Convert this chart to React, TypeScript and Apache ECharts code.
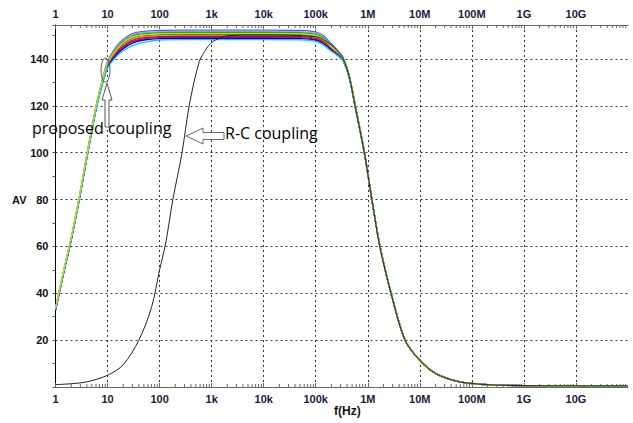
import React, { useEffect, useRef } from "react";
import * as echarts from "echarts";

// Frequencies (Hz) for the proposed-coupling curves
const propFreq = [1, 1.5, 2, 3, 4, 6, 8, 10, 15, 20, 30, 50, 100, 300, 1e3, 1e4, 5e4, 1e5, 1.4e5, 2e5, 2.6e5, 3.3e5, 4.4e5, 5.7e5, 8.6e5, 1.2e6, 1.7e6, 2.8e6, 5.2e6, 1e7, 2e7, 5e7, 1e8, 3e8, 1e9, 1e10, 1e11];

const prop0 = [33.5, 51.5, 63.5, 83.5, 99, 119.8, 131.5, 139, 145.5, 148.3, 150.8, 151.8, 152.2, 152.3, 152.3, 152.3, 152.2, 151.5, 150, 146.5, 143.8, 141, 133, 120.8, 100.5, 80, 60.5, 40, 20, 11.4, 5.8, 2.5, 1.5, 0.8, 0.6, 0.5, 0.5];
const prop1 = [33.3, 51.3, 63.3, 83.3, 98.8, 119.6, 131.2, 138.6, 145, 147.8, 150.3, 151.3, 151.7, 151.8, 151.8, 151.8, 151.7, 151, 149.5, 146.1, 143.5, 140.8, 132.9, 120.7, 100.4, 80, 60.5, 40, 20, 11.4, 5.8, 2.5, 1.5, 0.8, 0.6, 0.5, 0.5];
const prop2 = [33.2, 51.2, 63.2, 83.1, 98.6, 119.4, 131, 138.3, 144.5, 147.3, 149.8, 150.8, 151.2, 151.3, 151.3, 151.3, 151.2, 150.5, 149, 145.7, 143.2, 140.6, 132.8, 120.6, 100.3, 80, 60.5, 40, 20, 11.4, 5.8, 2.5, 1.5, 0.8, 0.6, 0.5, 0.5];
const prop3 = [33.8, 51.8, 63.8, 83.7, 99.2, 119.9, 131.2, 138.3, 144.1, 146.9, 149.3, 150.3, 150.7, 150.8, 150.8, 150.8, 150.7, 150, 148.5, 145.3, 143, 140.4, 132.7, 120.5, 100.3, 80, 60.5, 40, 20, 11.4, 5.8, 2.5, 1.5, 0.8, 0.6, 0.5, 0.5];
const prop4 = [33.1, 51, 63, 82.9, 98.4, 119.2, 130.7, 137.8, 143.7, 146.5, 148.9, 150, 150.4, 150.5, 150.5, 150.5, 150.4, 149.7, 148.2, 145, 142.8, 140.3, 132.6, 120.4, 100.2, 80, 60.5, 40, 20, 11.4, 5.8, 2.5, 1.5, 0.8, 0.6, 0.5, 0.5];
const prop5 = [33, 50.9, 62.9, 82.8, 98.3, 119, 130.4, 137.5, 143.3, 146.1, 148.5, 149.6, 150, 150.1, 150.1, 150.1, 150, 149.3, 147.8, 144.7, 142.5, 140.2, 132.5, 120.3, 100.1, 80, 60.5, 40, 20, 11.4, 5.8, 2.5, 1.5, 0.8, 0.6, 0.5, 0.5];
const prop6 = [32.9, 50.8, 62.8, 82.6, 98.1, 118.8, 130.1, 137.1, 142.8, 145.5, 147.9, 149.1, 149.5, 149.6, 149.6, 149.6, 149.5, 148.8, 147.3, 144.3, 142.2, 140, 132.4, 120.2, 100, 80, 60.5, 40, 20, 11.4, 5.8, 2.5, 1.5, 0.8, 0.6, 0.5, 0.5];
const prop7 = [32.8, 50.7, 62.7, 82.5, 98, 118.6, 129.9, 136.8, 142.3, 144.9, 147.4, 148.6, 149.1, 149.2, 149.2, 149.2, 149.1, 148.4, 146.9, 144, 142, 139.8, 132.3, 120.1, 100, 80, 60.5, 40, 20, 11.4, 5.8, 2.5, 1.5, 0.8, 0.6, 0.5, 0.5];
const prop8 = [32.7, 50.6, 62.6, 82.4, 97.8, 118.4, 129.6, 136.5, 141.8, 144.4, 146.8, 148.1, 148.7, 148.8, 148.8, 148.8, 148.7, 148, 146.5, 143.7, 141.8, 139.6, 132.2, 120, 99.9, 80, 60.5, 40, 20, 11.4, 5.8, 2.5, 1.5, 0.8, 0.6, 0.5, 0.5];
const prop9 = [33, 50.8, 62.7, 82.3, 97.6, 118.1, 129.3, 136.1, 141.2, 143.5, 145.7, 147.1, 148.1, 148.3, 148.3, 148.3, 148.2, 147.5, 146, 143.3, 141.5, 139.4, 132, 119.8, 99.8, 80, 60.5, 40, 20, 11.4, 5.8, 2.5, 1.5, 0.8, 0.6, 0.5, 0.5];

const propSeries = [prop4, prop5, prop6, prop7, prop8, prop0, prop1, prop2, prop9, prop3];
const propColors = ["#006400", "#e09a30", "#e00000", "#c000c0", "#0000c0", "#5050ff", "#a0a0ff", "#00c000", "#00d0ff", "#d8d800"];

// R-C coupling curve
const rcFreq = [1, 2, 4, 10, 20, 40, 70, 100, 130, 180, 270, 370, 580, 800, 1000, 1400, 2200, 5000, 1e4, 1e5, 2e5, 2.6e5, 3.3e5, 4.4e5, 5.7e5, 8.6e5, 1.2e6, 1.7e6, 2.8e6, 5.2e6, 1e7, 2e7, 5e7, 1e8, 3e8, 1e9, 1e10, 1e11];
const rcGain = [1, 1.4, 2.2, 5, 9.5, 20, 34, 50, 61, 80, 100, 120, 139, 144.5, 147, 148.8, 150, 150.2, 150.2, 149.5, 146, 143.5, 140.5, 132.5, 120, 100, 80, 60, 40, 20, 11.4, 5.8, 2.5, 1.5, 0.8, 0.6, 0.5, 0.5];

// Axis ticks
const decadeTicks = [1, 10, 100, 1e3, 1e4, 1e5, 1e6, 1e7, 1e8, 1e9, 1e10, 1e11];
const decadeLabels = ["1", "10", "100", "1k", "10k", "100k", "1M", "10M", "100M", "1G", "10G", ""];
const minorMultipliers = [2, 3, 4, 5, 6, 7, 8, 9];

const xMin = 1;
const xMax = 1e11;
const yMax = 154.5;

const minorTickValues: number[] = [];
decadeTicks.slice(0, -1).forEach((d) => minorMultipliers.forEach((m) => minorTickValues.push(d * m)));

const labelColor = "#1a1a40";

const makeXAxis = (pos: "top" | "bottom") => ({
  type: "log",
  logBase: 10,
  min: xMin,
  max: xMax,
  position: pos,
  axisLine: { show: true, lineStyle: { color: "#666", width: 1 } },
  axisTick: { show: true, inside: true, length: 4, customValues: decadeTicks.slice(0, -1), lineStyle: { color: "#666" } },
  axisLabel: {
    show: true,
    customValues: decadeTicks.slice(0, -1),
    formatter: (v: number) => decadeLabels[decadeTicks.findIndex((d) => Math.abs(Math.log10(d) - Math.log10(v)) < 1e-6)] ?? "",
    color: labelColor,
    fontWeight: "bold",
    fontSize: 11,
    fontFamily: "Liberation Sans",
    margin: 6,
    interval: 0,
    hideOverlap: false,
  },
  splitLine: {
    show: pos === "bottom",
    lineStyle: { color: "#333", type: [2, 3], width: 1 },
  },
});

export default function App() {
  const ref = useRef<HTMLDivElement>(null);
  useEffect(() => {
    if (!ref.current) return;
    const chart = echarts.init(ref.current, undefined, { renderer: "svg" });
    const series: any[] = propSeries.map((vals, i) => ({
      type: "line",
      xAxisIndex: 0,
      data: propFreq.map((f, j) => [f, vals[j]]),
      showSymbol: false,
      smooth: 0.25,
      lineStyle: { color: propColors[i], width: 1.3 },
      z: 3,
    }));
    series.push({
      type: "line",
      xAxisIndex: 0,
      data: rcFreq.map((f, j) => [f, rcGain[j]]),
      showSymbol: false,
      smooth: 0.3,
      lineStyle: { color: "#222", width: 1 },
      z: 4,
    });
    // minor log ticks on top and bottom axes
    series.push({
      type: "custom",
      xAxisIndex: 0,
      clip: false,
      silent: true,
      data: minorTickValues.map((f) => [f, 0]),
      renderItem: (params: any, api: any) => {
        const f = api.value(0);
        const b = api.coord([f, 0]);
        const t = api.coord([f, yMax]);
        return {
          type: "group",
          children: [
            { type: "line", shape: { x1: b[0], y1: b[1], x2: b[0], y2: b[1] - 3 }, style: { stroke: "#666", lineWidth: 1 } },
            { type: "line", shape: { x1: t[0], y1: t[1], x2: t[0], y2: t[1] + 3 }, style: { stroke: "#666", lineWidth: 1 } },
          ],
        };
      },
      z: 2,
    });
    chart.setOption({
      animation: false,
      backgroundColor: "#fff",
      grid: { left: 55.5, right: 5, top: 25, bottom: 36, containLabel: false },
      xAxis: [makeXAxis("bottom"), makeXAxis("top")],
      yAxis: {
        type: "value",
        min: 0,
        max: yMax,
        interval: 20,
        axisLine: { show: true, lineStyle: { color: "#000", width: 1 } },
        axisTick: { show: true, length: 3, lineStyle: { color: "#555" } },
        minorTick: { show: true, splitNumber: 2, length: 3, lineStyle: { color: "#555" } },
        minorSplitLine: { show: false },
        axisLabel: {
          color: "#111",
          fontWeight: "bold",
          fontSize: 11,
          fontFamily: "Liberation Sans",
          margin: 7,
          showMaxLabel: false,
          formatter: (v: number) => (v === 0 ? "" : String(v)),
        },
        splitLine: { show: true, lineStyle: { color: "#333", type: [2, 3], width: 1 } },
      },
      series,
      graphic: [
        { type: "text", left: 12, top: 194, style: { text: "AV", font: "bold 11px 'Liberation Sans'", fill: "#111" } },
        { type: "text", left: 334, top: 405, style: { text: "f(Hz)", font: "bold 12px 'Liberation Sans'", fill: "#111" } },
        {
          type: "ellipse",
          shape: { cx: 105.5, cy: 70, rx: 4.5, ry: 12 },
          style: { fill: "none", stroke: "#555", lineWidth: 1 },
          z: 10,
        },
        {
          type: "polygon",
          shape: {
            points: [[107, 83], [102, 100], [105, 100], [105, 127], [109, 127], [109, 100], [112, 100]],
          },
          style: { fill: "#fff", stroke: "#555", lineWidth: 1 },
          z: 10,
        },
        {
          type: "polygon",
          shape: {
            points: [[186, 136], [203, 128], [203, 132.5], [224, 132.5], [224, 139.5], [203, 139.5], [203, 144]],
          },
          style: { fill: "#fff", stroke: "#666", lineWidth: 1 },
          z: 10,
        },
        {
          type: "text",
          left: 32,
          top: 120,
          style: { text: "proposed coupling", font: "16px 'Open Sans'", fill: "#000" },
          z: 11,
        },
        {
          type: "text",
          left: 225,
          top: 125,
          style: { text: "R-C coupling", font: "16px 'Open Sans'", fill: "#000" },
          z: 11,
        },
      ],
    });
    return () => chart.dispose();
  }, []);
  return <div ref={ref} style={{ width: 633, height: 423, position: "absolute", left: 0, top: 0 }} />;
}
